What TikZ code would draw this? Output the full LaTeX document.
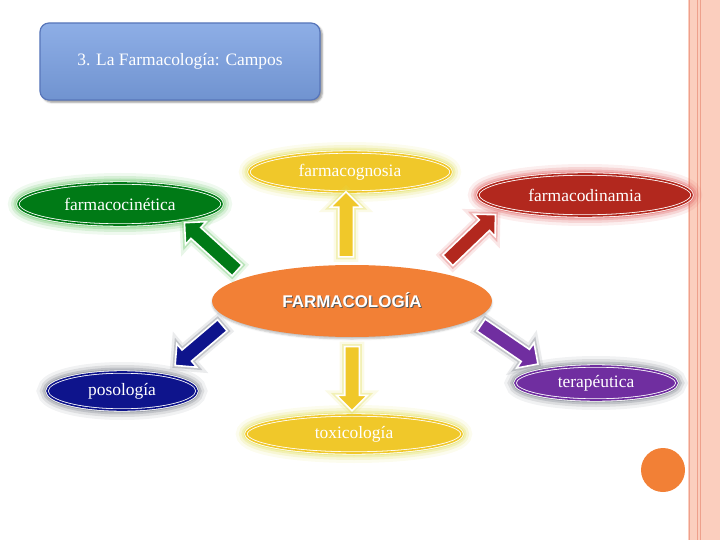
\documentclass[tikz,border=0pt]{standalone}
\usepackage{fontspec}
\setmainfont{Liberation Serif}
\setsansfont{Liberation Sans}
\usetikzlibrary{shapes.geometric, shapes.arrows, shadows.blur}
\definecolor{TitleBlue}{RGB}{122, 160, 226}
\definecolor{TitleEdge}{RGB}{88, 118, 186}
\definecolor{CognoYellow}{RGB}{240, 200, 42}
\definecolor{CognoGlow}{RGB}{226, 222, 90}
\definecolor{CineGreen}{RGB}{0, 122, 22}
\definecolor{CineGlow}{RGB}{100, 196, 100}
\definecolor{DinaRed}{RGB}{178, 40, 30}
\definecolor{DinaGlow}{RGB}{222, 96, 96}
\definecolor{CoreOrange}{RGB}{242, 128, 54}
\definecolor{PosoBlue}{RGB}{14, 20, 140}
\definecolor{TeraPurple}{RGB}{112, 46, 160}
\definecolor{ShadeGrey}{RGB}{120, 125, 135}
\definecolor{BorderSalmon}{RGB}{251, 206, 190}
\definecolor{BorderLine}{RGB}{238, 160, 140}

\tikzset{
    glow/.style={preaction={draw=#1, line width=20bp, opacity=0.1},
                 preaction={draw=#1, line width=14bp, opacity=0.18},
                 preaction={draw=#1, line width=9bp, opacity=0.28},
                 preaction={draw=#1, line width=5bp, opacity=0.45}},
    aglow/.style={preaction={draw=#1, line width=10bp, opacity=0.15},
                  preaction={draw=#1, line width=5bp, opacity=0.35}},
    field/.style={ellipse, draw=white, line width=0.8bp, double=#1, double distance=1.6bp,
                  fill=#1, text=white, inner sep=0pt, font=\fontsize{17.5}{20}\selectfont},
    blk/.style={single arrow, fill=#1, draw=white, line width=1.6bp,
                single arrow head extend=8bp, inner xsep=0pt, inner ysep=6.5bp},
}

\begin{document}
\begin{tikzpicture}[x=1bp, y=-1bp]
    \useasboundingbox (0,0) rectangle (720,540);
    \fill[BorderSalmon] (688,0) rectangle (720,540);
    \draw[BorderLine, line width=1bp] (689,0) -- (689,540);
    \draw[BorderLine, line width=0.8bp] (697,0) -- (697,540);
    \draw[BorderLine, line width=0.8bp] (700,0) -- (700,540);
    \fill[CoreOrange] (663,470) circle (22bp);

    \node[rounded corners=9bp, top color=TitleBlue!85!white, bottom color=TitleBlue!92!black,
          draw=TitleEdge, line width=1.2bp,
          minimum width=280bp, minimum height=77bp, text=white,
          font=\fontsize{17.5}{20}\selectfont, blur shadow] (title) at (180,61.5) {3. La Farmacología: Campos};

    \node[ellipse, fill=CoreOrange, minimum width=280bp, minimum height=72bp, inner sep=0pt,
          text=white, font=\sffamily\bfseries\fontsize{17}{20}\selectfont,
          blur shadow={shadow xshift=0bp, shadow yshift=-2bp, shadow opacity=25}] (core) at (352,301)
          {\rlap{\raisebox{-1bp}{\hspace{1bp}\color{black!65}FARMACOLOGÍA}}FARMACOLOGÍA};

    \node[field=CognoYellow, glow=CognoGlow, minimum width=202bp, minimum height=40bp] (cogno) at (350,172) {farmacognosia};
    \node[field=CineGreen, glow=CineGlow, minimum width=204bp, minimum height=42bp] (cine) at (120,204) {farmacocinética};
    \node[field=DinaRed, glow=DinaGlow, minimum width=214bp, minimum height=42bp] (dina) at (585,195) {farmacodinamia};
    \node[field=PosoBlue, glow=ShadeGrey, minimum width=150bp, minimum height=38bp] (poso) at (122,391) {posología};
    \node[field=TeraPurple, glow=ShadeGrey, minimum width=162bp, minimum height=34bp] (tera) at (596,383) {terapéutica};
    \node[field=CognoYellow, glow=CognoGlow, minimum width=216bp, minimum height=38bp] (toxi) at (354,434) {toxicología};

    \node[blk=CognoYellow, aglow=CognoGlow, minimum height=65bp, rotate=90] (upArrow) at (346,228) {};
    \node[blk=CineGreen, aglow=CineGlow, minimum height=71bp, rotate=137.8] (cineArrow) at (213.5,249) {};
    \node[blk=DinaRed, aglow=DinaGlow, minimum height=66bp, rotate=43.8] (dinaArrow) at (469,240) {};
    \node[blk=PosoBlue, aglow=ShadeGrey, minimum height=62bp, rotate=220.4] (posoArrow) at (201.5,343) {};
    \node[blk=TeraPurple, aglow=ShadeGrey, minimum height=69bp, rotate=-34.4] (teraArrow) at (506.5,342.5) {};
    \node[blk=CognoYellow, aglow=CognoGlow, minimum height=64bp, rotate=-90] (downArrow) at (352,375) {};
\end{tikzpicture}
\end{document}
